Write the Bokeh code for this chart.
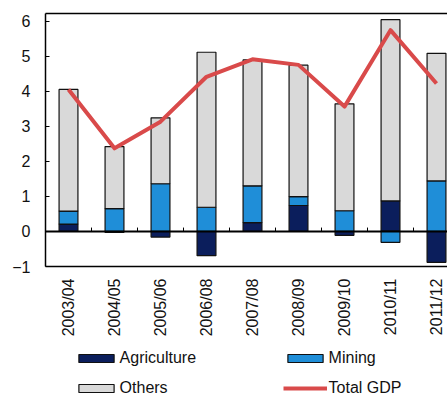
import math
from bokeh.plotting import figure
from bokeh.layouts import column
from bokeh.models import (ColumnDataSource, Range1d, FixedTicker, LinearAxis,
                          Span, Legend, LegendItem)
from bokeh.embed import file_html
from bokeh.resources import INLINE

# Contributions to real GDP growth by sector (percentage points)
years = ["2003/04", "2004/05", "2005/06", "2006/08", "2007/08",
         "2008/09", "2009/10", "2010/11", "2011/12"]
agriculture = [0.21, -0.03, -0.16, -0.69, 0.25, 0.74, -0.11, 0.87, -0.88]
mining = [0.37, 0.65, 1.36, 0.69, 1.05, 0.25, 0.59, -0.31, 1.44]
others = [3.47, 1.77, 1.88, 4.42, 3.59, 3.75, 3.05, 5.17, 3.64]
total_gdp = [4.05, 2.37, 3.13, 4.41, 4.91, 4.75, 3.56, 5.74, 4.22]
y_ticks = [-1, 0, 1, 2, 3, 4, 5, 6]

FONT = "Liberation Sans"
TEXT = "#111111"
COLORS = {"Agriculture": "#0b1e5c", "Mining": "#1f8ed8", "Others": "#d9d9d9"}
GDP_COLOR = "#d94a4a"
n = len(years)
xc = [i + 0.5 for i in range(n)]

# stack positives upward and negatives downward, as in a stacked column chart
pos = [0.0] * n
neg = [0.0] * n
stacks = []
for vals in (agriculture, mining, others):
    bottom, top = [], []
    for i, v in enumerate(vals):
        if v >= 0:
            bottom.append(pos[i]); top.append(pos[i] + v); pos[i] += v
        else:
            bottom.append(neg[i] + v); top.append(neg[i]); neg[i] += v
    stacks.append(ColumnDataSource(dict(x=xc, bottom=bottom, top=top)))

p = figure(width=447, height=340, output_backend="svg", toolbar_location=None,
           x_range=Range1d(0, 8.739), y_range=Range1d(-1, 6.215),
           min_border_left=45, min_border_right=0, min_border_top=13,
           min_border_bottom=74)
p.outline_line_color = None
p.xgrid.visible = False
p.ygrid.visible = False

for src, col in zip(stacks, COLORS.values()):
    p.vbar(x="x", bottom="bottom", top="top", width=0.41, source=src,
           fill_color=col, line_color=TEXT, line_width=1.2)

# zero line with small category separators
p.add_layout(Span(location=0, dimension="width", line_color="black", line_width=2))
bounds = list(range(1, n))
p.segment(x0=bounds, x1=bounds, y0=[0] * len(bounds), y1=[0.11] * len(bounds),
          line_color="black", line_width=1)

p.line(xc, total_gdp, line_color=GDP_COLOR, line_width=4, line_join="round")

# y axis
ya = p.yaxis[0]
ya.ticker = FixedTicker(ticks=y_ticks)
ya.major_tick_in = 4
ya.major_tick_out = 0
ya.minor_tick_line_color = None
ya.axis_line_width = 1.5
ya.major_label_standoff = 15
ya.major_label_text_font = FONT
ya.major_label_text_font_size = "16px"
ya.major_label_text_color = TEXT

# category axis along the bottom of the frame, labels read upward
xa = p.xaxis[0]
xa.ticker = FixedTicker(ticks=xc)
xa.major_label_overrides = {x: lab for x, lab in zip(xc, years)}
xa.major_label_orientation = math.pi / 2
xa.major_tick_in = 0
xa.major_tick_out = 0
xa.minor_tick_line_color = None
xa.axis_line_width = 1.5
xa.major_label_standoff = 12
xa.major_label_text_font = FONT
xa.major_label_text_font_size = "16px"
xa.major_label_text_color = TEXT

# top border of the frame
top = LinearAxis(ticker=FixedTicker(ticks=[]), major_tick_out=0, major_tick_in=0,
                 minor_tick_line_color=None, major_label_text_font_size="0px",
                 major_label_standoff=0, axis_line_width=1.5)
p.add_layout(top, "above")

# legend strip underneath the chart; key glyphs sit outside the visible range
lg = figure(width=447, height=58, output_backend="svg", toolbar_location=None,
            x_range=Range1d(0, 1), y_range=Range1d(0, 1),
            x_axis_type=None, y_axis_type=None,
            min_border_left=0, min_border_right=0, min_border_top=0,
            min_border_bottom=0)
lg.outline_line_color = None
lg.xgrid.visible = False
lg.ygrid.visible = False
swatches = {name: lg.vbar(x=[-5], top=[-5], width=0.5, fill_color=col,
                          line_color=TEXT, line_width=1.2)
            for name, col in COLORS.items()}
gdp_key = lg.line(x=[-5, -4], y=[-5, -5], line_color=GDP_COLOR, line_width=4)

legend = Legend(items=[LegendItem(label="Agriculture", renderers=[swatches["Agriculture"]]),
                       LegendItem(label="Mining", renderers=[swatches["Mining"]]),
                       LegendItem(label="Others", renderers=[swatches["Others"]]),
                       LegendItem(label="Total GDP", renderers=[gdp_key])],
                orientation="horizontal", ncols=2,
                location=(28.6, -5),
                glyph_width=44, glyph_height=10, label_standoff=2,
                label_width=163, label_height=30, spacing=0,
                padding=0, margin=0, border_line_color=None,
                background_fill_alpha=0,
                label_text_font=FONT, label_text_font_size="16px",
                label_text_color=TEXT)
lg.add_layout(legend, "center")

page = column(p, lg, spacing=0)
open("out.html", "w").write(file_html(page, INLINE))
